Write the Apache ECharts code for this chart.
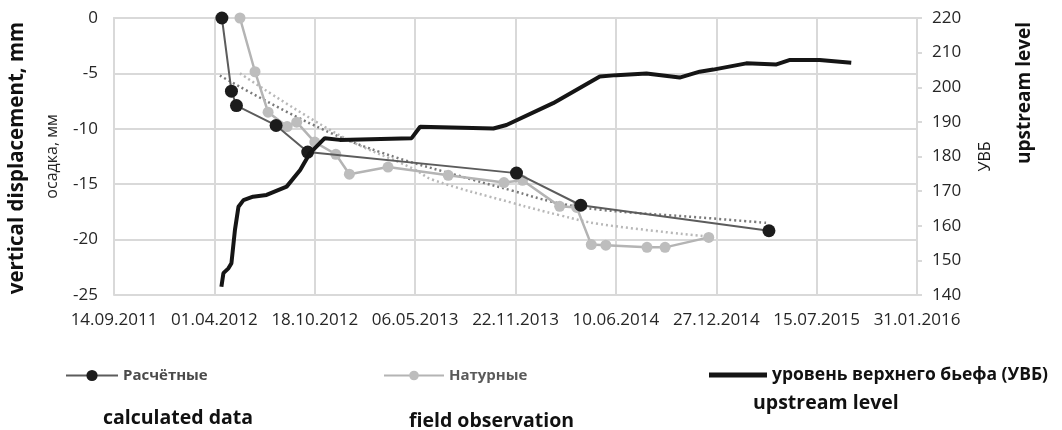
<!DOCTYPE html>
<html>
<head>
<meta charset="utf-8">
<script src="https://cdn.jsdelivr.net/npm/echarts@6/dist/echarts.min.js"></script>
<style>
  html, body { margin: 0; padding: 0; background: #fff; }
  #chart { width: 1062px; height: 430px; }
</style>
</head>
<body>
<div id="chart"></div>
<script>
// Settlement of the dam crest vs. reservoir (upstream) level
const xTickStart = '14.09.2011';
const xTickStepDays = 200;
const xTickCount = 8;

// Calculated settlement, mm
const calcDates = ['16.04.2012', '05.05.2012', '15.05.2012', '02.08.2012', '04.10.2012',
                   '24.11.2013', '01.04.2014', '11.04.2015'];
const calcValues = [0, -6.6, -7.9, -9.7, -12.1, -14.0, -16.9, -19.2];

// Field (observed) settlement, mm
const fieldDates = ['22.05.2012', '21.06.2012', '17.07.2012', '24.08.2012', '12.09.2012',
                    '18.10.2012', '29.11.2012', '26.12.2012', '13.03.2013', '11.07.2013',
                    '30.10.2013', '06.12.2013', '18.02.2014', '24.03.2014', '22.04.2014',
                    '21.05.2014', '11.08.2014', '16.09.2014', '12.12.2014'];
const fieldValues = [0, -4.85, -8.5, -9.8, -9.4, -11.2, -12.3, -14.1, -13.45, -14.2,
                     -14.85, -14.65, -17.0, -17.1, -20.45, -20.5, -20.7, -20.7, -19.8];

// Trend of the calculated settlement, mm
const calcTrendDates = ['12.04.2012', '08.10.2012', '25.02.2013', '29.08.2013', '17.11.2013',
                        '05.02.2014', '09.05.2014', '24.11.2014', '09.04.2015'];
const calcTrendValues = [-5.2, -9.5, -12.1, -14.6, -15.6, -16.6, -17.3, -18.0, -18.5];

// Trend of the field settlement, mm
const fieldTrendDates = ['22.05.2012', '07.12.2012', '02.05.2013', '10.06.2013', '17.11.2013',
                         '18.02.2014', '09.05.2014', '06.12.2014'];
const fieldTrendValues = [-5.0, -10.6, -13.6, -14.6, -16.7, -17.8, -18.6, -19.7];

// Upstream water level (УВБ), m
const levelDates = ['15.04.2012', '19.04.2012', '29.04.2012', '05.05.2012', '12.05.2012',
                    '19.05.2012', '29.05.2012', '17.06.2012', '14.07.2012', '23.08.2012',
                    '19.09.2012', '08.10.2012', '07.11.2012', '07.12.2012', '29.04.2013',
                    '16.05.2013', '09.10.2013', '04.11.2013', '05.02.2014', '09.05.2014',
                    '11.06.2014', '10.08.2014', '15.10.2014', '24.11.2014', '21.12.2014',
                    '25.02.2015', '26.04.2015', '23.05.2015', '21.07.2015', '22.09.2015'];
const levelValues = [142.4, 146.3, 147.7, 149.2, 158.8, 165.5, 167.4, 168.4, 168.9, 171.3,
                     176.1, 180.9, 185.3, 184.8, 185.3, 188.6, 188.1, 189.1, 195.4, 203.1,
                     203.5, 204.0, 202.8, 204.5, 205.1, 206.9, 206.6, 207.9, 207.9, 207.1];

const seriesNames = ['Расчётные', 'Натурные', 'уровень верхнего бьефа (УВБ)'];
const leftAxisName = 'осадка, мм';
const rightAxisName = 'УВБ';
const captions = ['calculated data', 'field observation', 'upstream level'];
const leftTitle = 'vertical displacement, mm';
const rightTitle = 'upstream level';

const DAY = 86400000;
function parseDate(s) {
  const p = s.split('.');
  return Date.UTC(+p[2], +p[1] - 1, +p[0]);
}
const origin = parseDate(xTickStart);
function toDays(s) { return Math.round((parseDate(s) - origin) / DAY); }
function fmtDay(v) {
  const d = new Date(origin + v * DAY);
  const dd = String(d.getUTCDate()).padStart(2, '0');
  const mm = String(d.getUTCMonth() + 1).padStart(2, '0');
  return dd + '.' + mm + '.' + d.getUTCFullYear();
}
function pairs(dates, values) { return dates.map((d, i) => [toDays(d), values[i]]); }

const FONT = '"Open Sans", "Noto Sans", sans-serif';
const GRID = '#d9d9d9';
const TICK_TXT = '#262626';
const LEVEL_COLOR = '#151515';

const chart = echarts.init(document.getElementById('chart'), null, { renderer: 'canvas' });

chart.setOption({
  animation: false,
  backgroundColor: '#ffffff',
  textStyle: { fontFamily: FONT },
  grid: { left: 114, right: 145, top: 18, bottom: 135, containLabel: false },
  xAxis: {
    type: 'value',
    min: 0,
    max: xTickStepDays * xTickCount,
    interval: xTickStepDays,
    axisLine: { show: true, lineStyle: { color: GRID, width: 2 } },
    axisTick: { show: false },
    splitLine: { show: true, lineStyle: { color: GRID, width: 2 } },
    axisLabel: {
      formatter: fmtDay, color: TICK_TXT, fontSize: 17, fontFamily: FONT, margin: 17
    }
  },
  yAxis: [
    {
      type: 'value',
      min: -25, max: 0, interval: 5,
      position: 'left',
      name: leftAxisName,
      nameLocation: 'middle',
      nameGap: 54,
      nameRotate: 90,
      nameTextStyle: { color: '#262626', fontSize: 16, fontFamily: FONT },
      axisLine: { show: true, lineStyle: { color: GRID, width: 2 } },
      axisTick: { show: false },
      splitLine: { show: true, lineStyle: { color: GRID, width: 2 } },
      axisLabel: { color: TICK_TXT, fontSize: 17, fontFamily: FONT, margin: 16 }
    },
    {
      type: 'value',
      min: 140, max: 220, interval: 10,
      position: 'right',
      name: rightAxisName,
      nameLocation: 'middle',
      nameGap: 60,
      nameRotate: 90,
      nameTextStyle: { color: '#1a1a1a', fontSize: 16, fontFamily: FONT },
      axisLine: { show: true, lineStyle: { color: GRID, width: 2 } },
      axisTick: { show: true, length: 5, lineStyle: { color: GRID, width: 2 } },
      splitLine: { show: false },
      axisLabel: { color: TICK_TXT, fontSize: 17, fontFamily: FONT, margin: 15 }
    }
  ],
  legend: [
    {
      data: [seriesNames[0]], left: 60, top: 363,
      itemWidth: 52, itemHeight: 14, itemGap: 6,
      textStyle: { color: '#4a4a4a', fontSize: 15, fontWeight: 'bold', fontFamily: FONT }
    },
    {
      data: [seriesNames[1]], left: 378, top: 363,
      itemWidth: 60, itemHeight: 12,
      textStyle: { color: '#5a5a5a', fontSize: 15, fontWeight: 'bold', fontFamily: FONT }
    },
    {
      data: [{ name: seriesNames[2], icon: 'rect', itemStyle: { color: LEVEL_COLOR } }],
      left: 704, top: 361,
      itemWidth: 58, itemHeight: 5,
      textStyle: { color: '#111', fontSize: 17.5, fontWeight: 'bold', fontFamily: FONT }
    }
  ],
  graphic: [
    { type: 'text', left: 103, top: 408, style: { text: captions[0], fill: '#111', font: 'bold 19.5px ' + FONT } },
    { type: 'text', left: 409, top: 411, style: { text: captions[1], fill: '#111', font: 'bold 19.5px ' + FONT } },
    { type: 'text', left: 753, top: 393, style: { text: captions[2], fill: '#111', font: 'bold 19.5px ' + FONT } },
    {
      type: 'text', x: 17, y: 158, rotation: Math.PI / 2,
      style: { text: leftTitle, fill: '#111', font: 'bold 20.5px ' + FONT, align: 'center', verticalAlign: 'middle' }
    },
    {
      type: 'text', x: 1025, y: 93, rotation: Math.PI / 2,
      style: { text: rightTitle, fill: '#111', font: 'bold 19px ' + FONT, align: 'center', verticalAlign: 'middle' }
    }
  ],
  series: [
    {
      name: 'calcTrend', type: 'line', yAxisIndex: 0, smooth: 0.4,
      data: pairs(calcTrendDates, calcTrendValues), showSymbol: false, silent: true,
      lineStyle: { color: '#7a7a7a', width: 2.5, type: [2, 3] }, z: 2
    },
    {
      name: 'fieldTrend', type: 'line', yAxisIndex: 0, smooth: 0.4,
      data: pairs(fieldTrendDates, fieldTrendValues), showSymbol: false, silent: true,
      lineStyle: { color: '#b8b8b8', width: 2.5, type: [2, 3] }, z: 2
    },
    {
      name: seriesNames[1], type: 'line', yAxisIndex: 0,
      data: pairs(fieldDates, fieldValues),
      symbol: 'circle', symbolSize: 11,
      itemStyle: { color: '#bdbdbd' },
      lineStyle: { color: '#b4b4b4', width: 2.5 }, z: 3
    },
    {
      name: seriesNames[0], type: 'line', yAxisIndex: 0,
      data: pairs(calcDates, calcValues),
      symbol: 'circle', symbolSize: 13,
      itemStyle: { color: '#1c1c1c' },
      lineStyle: { color: '#5c5c5c', width: 2 }, z: 4
    },
    {
      name: seriesNames[2], type: 'line', yAxisIndex: 1,
      data: pairs(levelDates, levelValues),
      showSymbol: false, symbol: 'none',
      itemStyle: { color: LEVEL_COLOR },
      lineStyle: { color: LEVEL_COLOR, width: 4 }, z: 5
    }
  ]
});
</script>
</body>
</html>
